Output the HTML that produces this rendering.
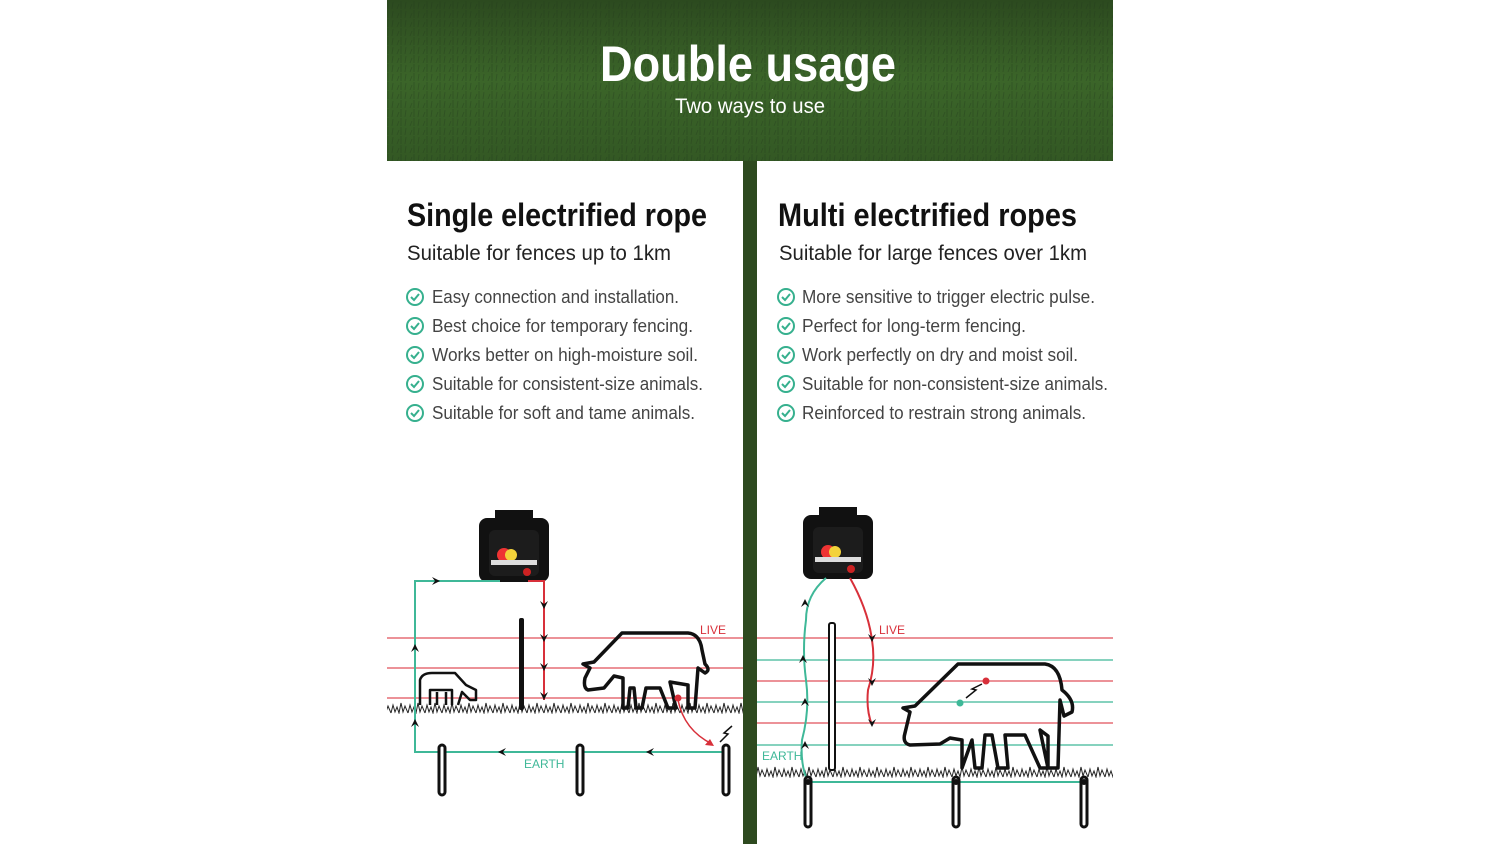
<!DOCTYPE html>
<html><head><meta charset="utf-8"><style>
html,body{margin:0;padding:0;background:#fff;}
svg{display:block;}
</style></head><body>
<svg width="1500" height="844" viewBox="0 0 1500 844" xmlns="http://www.w3.org/2000/svg" font-family="Liberation Sans, sans-serif">
<defs>
<linearGradient id="g" x1="0" y1="0" x2="0" y2="1">
<stop offset="0" stop-color="#2c4a1f"/><stop offset="0.5" stop-color="#3b6529"/><stop offset="1" stop-color="#335824"/>
</linearGradient>
<pattern id="tex" width="13" height="9" patternUnits="userSpaceOnUse">
<path d="M2 9 L3 2 M7 9 L9 4 M11 9 L11 1" stroke="#22391a" stroke-width="1" opacity="0.35"/>
</pattern>
<pattern id="grass" x="0" y="700" width="17" height="14" patternUnits="userSpaceOnUse">
<path d="M0 13 L2 5 L4 12 L6 7 L8 13 L10 3 L12 12 L14 6 L17 13" fill="none" stroke="#222" stroke-width="1"/>
</pattern>
<pattern id="grass2" x="0" y="764" width="17" height="14" patternUnits="userSpaceOnUse">
<path d="M0 13 L2 5 L4 12 L6 7 L8 13 L10 3 L12 12 L14 6 L17 13" fill="none" stroke="#222" stroke-width="1"/>
</pattern>
<g id="chk"><circle r="8" fill="none" stroke="#36b08e" stroke-width="2"/><path d="M-4 0 L-1 3 L4 -3" fill="none" stroke="#36b08e" stroke-width="2"/></g>
<g id="dev">
<rect x="16" y="0" width="38" height="10" fill="#111"/>
<rect x="0" y="8" width="70" height="64" rx="8" fill="#111"/>
<rect x="10" y="20" width="50" height="46" rx="6" fill="#1c1c1c"/>
<circle cx="25" cy="45" r="7" fill="#e33"/><ellipse cx="32" cy="45" rx="6" ry="6" fill="#f3d23a"/>
<rect x="12" y="50" width="46" height="5" fill="#ddd"/>
<circle cx="48" cy="62" r="4" fill="#c22"/>
</g>
<g id="stake"><rect x="-3" y="0" width="6" height="50" rx="3" fill="#fff" stroke="#111" stroke-width="3"/></g>
</defs>

<rect x="387" y="0" width="726" height="161" fill="url(#g)"/>
<rect x="387" y="0" width="726" height="161" fill="url(#tex)"/>
<text x="748" y="81" text-anchor="middle" fill="#fff" font-size="50" font-weight="bold" textLength="296" lengthAdjust="spacingAndGlyphs">Double usage</text>
<text x="750" y="113" text-anchor="middle" fill="#fff" font-size="21" textLength="150" lengthAdjust="spacingAndGlyphs">Two ways to use</text>

<rect x="743" y="161" width="14" height="683" fill="#2e4a1f"/>

<text x="407" y="226" font-size="32" font-weight="bold" fill="#111" textLength="300" lengthAdjust="spacingAndGlyphs">Single electrified rope</text>
<text x="407" y="260" font-size="21" fill="#222" textLength="264" lengthAdjust="spacingAndGlyphs">Suitable for fences up to 1km</text>
<g font-size="18" fill="#444">
<use href="#chk" x="415" y="297"/><text x="432" y="303" textLength="247" lengthAdjust="spacingAndGlyphs">Easy connection and installation.</text>
<use href="#chk" x="415" y="326"/><text x="432" y="332" textLength="261" lengthAdjust="spacingAndGlyphs">Best choice for temporary fencing.</text>
<use href="#chk" x="415" y="355"/><text x="432" y="361" textLength="266" lengthAdjust="spacingAndGlyphs">Works better on high-moisture soil.</text>
<use href="#chk" x="415" y="384"/><text x="432" y="390" textLength="271" lengthAdjust="spacingAndGlyphs">Suitable for consistent-size animals.</text>
<use href="#chk" x="415" y="413"/><text x="432" y="419" textLength="263" lengthAdjust="spacingAndGlyphs">Suitable for soft and tame animals.</text>
</g>

<text x="778" y="226" font-size="32" font-weight="bold" fill="#111" textLength="299" lengthAdjust="spacingAndGlyphs">Multi electrified ropes</text>
<text x="779" y="260" font-size="21" fill="#222" textLength="308" lengthAdjust="spacingAndGlyphs">Suitable for large fences over 1km</text>
<g font-size="18" fill="#444">
<use href="#chk" x="786" y="297"/><text x="802" y="303" textLength="293" lengthAdjust="spacingAndGlyphs">More sensitive to trigger electric pulse.</text>
<use href="#chk" x="786" y="326"/><text x="802" y="332" textLength="224" lengthAdjust="spacingAndGlyphs">Perfect for long-term fencing.</text>
<use href="#chk" x="786" y="355"/><text x="802" y="361" textLength="276" lengthAdjust="spacingAndGlyphs">Work perfectly on dry and moist soil.</text>
<use href="#chk" x="786" y="384"/><text x="802" y="390" textLength="306" lengthAdjust="spacingAndGlyphs">Suitable for non-consistent-size animals.</text>
<use href="#chk" x="786" y="413"/><text x="802" y="419" textLength="284" lengthAdjust="spacingAndGlyphs">Reinforced to restrain strong animals.</text>
</g>

<!-- LEFT DIAGRAM -->
<g stroke-width="1.3">
<line x1="387" y1="638" x2="743" y2="638" stroke="#e0505a"/>
<line x1="387" y1="668" x2="743" y2="668" stroke="#e0505a"/>
<line x1="387" y1="698" x2="743" y2="698" stroke="#e0505a"/>
</g>
<rect x="387" y="700" width="356" height="14" fill="url(#grass)"/>
<use href="#dev" x="479" y="510"/>
<path d="M500 581 H415 V752 H726" fill="none" stroke="#3fb898" stroke-width="2"/>
<path d="M528 581 H544 V700" fill="none" stroke="#d8303a" stroke-width="2"/>
<g fill="#111">
<path d="M432 577 l8 4 l-8 4 l3 -4z"/>
<path d="M411 652 l4 -8 l4 8 l-4 -3z"/><path d="M411 727 l4 -8 l4 8 l-4 -3z"/>
<path d="M540 601 l4 8 l4 -8 l-4 3z"/><path d="M540 634 l4 8 l4 -8 l-4 3z"/><path d="M540 663 l4 8 l4 -8 l-4 3z"/><path d="M540 692 l4 8 l4 -8 l-4 3z"/>
<path d="M506 748 l-8 4 l8 4 l-3 -4z"/><path d="M654 748 l-8 4 l8 4 l-3 -4z"/>
</g>
<rect x="519" y="618" width="5" height="92" rx="2" fill="#111"/>
<use href="#stake" x="442" y="745"/><use href="#stake" x="580" y="745"/><use href="#stake" x="726" y="745"/>
<text x="524" y="768" font-size="12" fill="#3fb898">EARTH</text>
<text x="700" y="634" font-size="12" fill="#d8303a">LIVE</text>
<path d="M420 705 V680 Q422 673 432 673 H455 L466 685 L476 690 L476 700 L470 700 L462 692 L458 705 M452 705 V690 H430 V705 M437 705 V692 M446 705 V692" fill="none" stroke="#111" stroke-width="2.5" stroke-linejoin="round"/>
<path d="M623 708 V678 L614 676 L604 688 L588 690 Q583 688 585 678 L590 668 L583 664 L594 662 L622 633 H688 Q700 634 702 650 L705 664 Q711 670 705 673 L698 668 L695 708 H688 V685 L670 682 L676 708 H668 L660 688 H646 L642 708 H636 L634 688 H630 L628 708 Z" fill="none" stroke="#111" stroke-width="3.5" stroke-linejoin="round"/>
<circle cx="678" cy="698" r="3.5" fill="#d8303a"/>
<path d="M678 700 Q684 730 712 744" fill="none" stroke="#d8303a" stroke-width="1.5"/>
<path d="M714 746 l-9 -1 l5 -6z" fill="#d8303a"/>
<path d="M720 742 L728 734 L724 733 L732 726" fill="none" stroke="#111" stroke-width="1.5"/>

<!-- RIGHT DIAGRAM -->
<g stroke-width="1.3">
<line x1="757" y1="638" x2="1113" y2="638" stroke="#e0505a"/>
<line x1="757" y1="660" x2="1113" y2="660" stroke="#3fb898"/>
<line x1="757" y1="681" x2="1113" y2="681" stroke="#e0505a"/>
<line x1="757" y1="702" x2="1113" y2="702" stroke="#3fb898"/>
<line x1="757" y1="723" x2="1113" y2="723" stroke="#e0505a"/>
<line x1="757" y1="745" x2="1113" y2="745" stroke="#3fb898"/>
</g>
<rect x="757" y="764" width="356" height="14" fill="url(#grass2)"/>
<use href="#dev" x="803" y="507"/>
<path d="M826 578 Q806 595 806 620 Q802 650 806 680 Q810 710 802 740 Q800 765 808 782 H1084" fill="none" stroke="#3fb898" stroke-width="2"/>
<path d="M850 578 Q868 610 872 640 Q876 665 868 690 Q866 710 872 725" fill="none" stroke="#d8303a" stroke-width="2"/>
<g fill="#111">
<path d="M801 607 l4 -8 l4 8 l-4 -3z"/><path d="M799 663 l4 -8 l4 8 l-4 -3z"/><path d="M801 706 l4 -8 l4 8 l-4 -3z"/><path d="M801 749 l4 -8 l4 8 l-4 -3z"/>
<path d="M868 634 l4 8 l4 -8 l-4 3z"/><path d="M868 678 l4 8 l4 -8 l-4 3z"/><path d="M868 719 l4 8 l4 -8 l-4 3z"/>
</g>
<rect x="829" y="623" width="6" height="147" rx="2" fill="#fff" stroke="#111" stroke-width="2"/>
<use href="#stake" x="808" y="777"/><use href="#stake" x="956" y="777"/><use href="#stake" x="1084" y="777"/>
<circle cx="808" cy="782" r="3" fill="#111"/><circle cx="956" cy="782" r="3" fill="#111"/><circle cx="1084" cy="782" r="3" fill="#111"/>
<text x="762" y="760" font-size="12" fill="#3fb898">EARTH</text>
<text x="879" y="634" font-size="12" fill="#d8303a">LIVE</text>
<path d="M962 768 V740 L950 738 L940 744 L910 745 Q902 743 905 733 L910 712 L903 708 L915 706 L958 664 H1045 Q1060 666 1062 690 Q1075 700 1072 712 L1064 716 L1060 700 L1058 768 H1048 V736 L1040 730 L1048 768 H1040 L1025 735 L1005 735 L1008 768 H998 L992 735 H985 L982 768 H975 L972 740 Z" fill="none" stroke="#111" stroke-width="3.5" stroke-linejoin="round"/>
<circle cx="986" cy="681" r="3.5" fill="#d8303a"/><circle cx="960" cy="703" r="3.5" fill="#3fb898"/>
<path d="M966 698 L976 690 L972 689 L982 684" fill="none" stroke="#111" stroke-width="1.5"/>
</svg>
</body></html>
